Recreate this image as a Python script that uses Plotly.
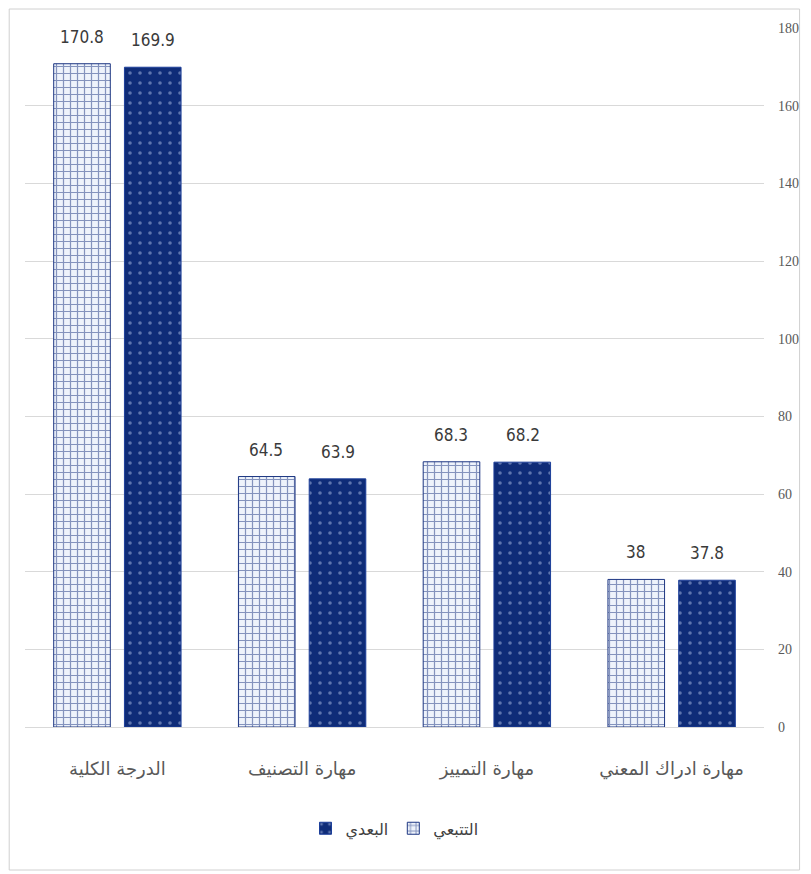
import plotly.graph_objects as go

categories = ["مهارة ادراك المعني", "مهارة التمييز", "مهارة التصنيف", "الدرجة الكلية"]
series_names = ["البعدي", "التتبعي"]
post_values = [37.8, 68.2, 63.9, 169.9]      # البعدي
followup_values = [38, 68.3, 64.5, 170.8]    # التتبعي
y_ticks = [0, 20, 40, 60, 80, 100, 120, 140, 160, 180]

NAVY = "#0f2c78"
W, H = 803, 866
ML, MR, MT, MB = 17, 38, 20, 147
BARGAP, BARGROUPGAP = 0.234, 0.2

label_font = dict(family="Liberation Sans Narrow, Arial Narrow, DejaVu Sans Condensed, sans-serif",
                  size=17, color="#3a3a3a")

fig = go.Figure()
fig.add_trace(go.Bar(
    name=series_names[0], x=categories, y=post_values,
    marker=dict(color=NAVY, line=dict(color="#1d3f9a", width=1),
                pattern=dict(shape=".", fgcolor="#aebde3", bgcolor=NAVY, size=10, solidity=0.1)),
))
fig.add_trace(go.Bar(
    name=series_names[1], x=categories, y=followup_values,
    marker=dict(color="#eef2fa", line=dict(color="#1e3783", width=1),
                pattern=dict(shape="+", fgcolor="#1a3380", bgcolor="#eef3fb", size=7, solidity=0.32)),
))

# value labels above bars (reversed x axis: first trace sits on the right of each group)
plot_w = W - ML - MR
plot_h = H - MT - MB
cat_px = plot_w / len(categories)
slot = cat_px * (1 - BARGAP) / 2
annotations = []
for vals, sign in ((post_values, 1), (followup_values, -1)):
    for c, v in zip(categories, vals):
        annotations.append(dict(x=c, y=v, text=f"{v:g}", showarrow=False,
                                xshift=sign * slot / 2, yshift=15, yanchor="bottom",
                                font=label_font))

fig.update_layout(
    width=W, height=H,
    margin=dict(l=ML, r=MR, t=MT, b=MB),
    paper_bgcolor="white", plot_bgcolor="white",
    barmode="group", bargap=BARGAP, bargroupgap=BARGROUPGAP,
    showlegend=True,
    legend=dict(orientation="h", x=0.5, xanchor="center", y=-0.145, yanchor="middle",
                font=dict(family="DejaVu Sans, sans-serif", size=16, color="#404040"),
                itemwidth=30),
    xaxis=dict(autorange="reversed", showgrid=False, showline=True, linecolor="#d9d9d9",
               linewidth=1, ticks="", ticklabelstandoff=25,
               tickfont=dict(family="DejaVu Sans, sans-serif", size=18, color="#595959")),
    yaxis=dict(side="right", range=[0, 180], tickvals=y_ticks, showgrid=True,
               gridcolor="#d9d9d9", gridwidth=1, zeroline=False, showline=False, ticks="",
               ticklabelstandoff=13,
               tickfont=dict(family="Liberation Serif, DejaVu Serif, serif", size=14, color="#595959")),
    annotations=annotations,
    shapes=[dict(type="rect", xref="paper", yref="paper",
                 x0=-(ML - 1) / plot_w, x1=1 + (MR - 2) / plot_w,
                 y0=-(MB - 4) / plot_h, y1=1 + (MT - 1) / plot_h,
                 line=dict(color="#d0d0d0", width=1), fillcolor="rgba(0,0,0,0)", layer="below")],
)

fig.write_html("out.html")
